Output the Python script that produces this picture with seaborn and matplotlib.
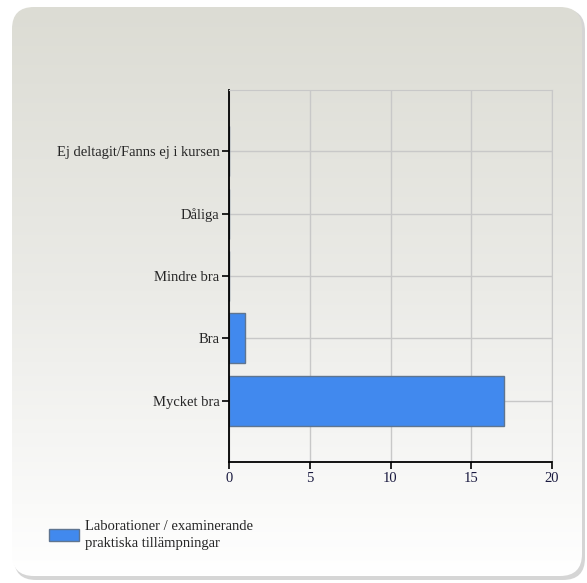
import numpy as np
import pandas as pd
import matplotlib
matplotlib.use("Agg")
import matplotlib.pyplot as plt
from matplotlib.patches import FancyBboxPatch
import seaborn as sns

categories = ["Ej deltagit/Fanns ej i kursen", "Dåliga", "Mindre bra", "Bra", "Mycket bra"]
counts = [0, 0, 0, 1, 17]
series_name = "Laborationer / examinerande\npraktiska tillämpningar"
x_ticks = [0, 5, 10, 15, 20]

df = pd.DataFrame({"Svar": categories, "Antal": counts})

sns.set_style("white")
plt.rcParams["font.family"] = ["Liberation Serif", "DejaVu Serif"]

W, H = 587, 583
fig = plt.figure(figsize=(W / 100, H / 100), dpi=100)
fig.patch.set_facecolor("white")

# rounded background panel with vertical gradient + soft shadow
bg = fig.add_axes([0, 0, 1, 1], zorder=0)
shadow = FancyBboxPatch((14, 9), 571, 571, boxstyle="round,pad=0,rounding_size=22",
                        facecolor="#c4c4c4", edgecolor="none", alpha=0.7, zorder=1)
bg.add_patch(shadow)
panel = FancyBboxPatch((12, 7), 570, 569, boxstyle="round,pad=0,rounding_size=22",
                       facecolor="none", edgecolor="none", zorder=1)
bg.add_patch(panel)
grad = np.linspace(0, 1, 256).reshape(-1, 1)
cmap = matplotlib.colors.LinearSegmentedColormap.from_list(
    "g", [(0, "#dcdcd4"), (0.5, "#ebebe7"), (1, "#ffffff")])
im = bg.imshow(grad, extent=(12, 582, 576, 7), aspect="auto", cmap=cmap, zorder=2)
im.set_clip_path(panel)
bg.set_xlim(0, W)
bg.set_ylim(H, 0)
bg.axis("off")

ax = fig.add_axes([229 / W, 1 - 462 / H, (552 - 229) / W, (462 - 90) / H], zorder=1)
ax.patch.set_alpha(0)
sns.barplot(data=df, x="Antal", y="Svar", orient="h", color="#4189ee", saturation=1,
            width=0.8, edgecolor="#5f7590", linewidth=1, label=series_name, ax=ax)

ax.set_xlim(0, 20)
ax.set_ylim(4.98, -0.98)
ax.set_xticks(x_ticks)
ax.set_xlabel("")
ax.set_ylabel("")
ax.grid(True, color="#c8c8c8", lw=1)
ax.set_axisbelow(True)
for s in ["top", "right"]:
    ax.spines[s].set_color("#c8c8c8")
for s in ["left", "bottom"]:
    ax.spines[s].set_color("black")
    ax.spines[s].set_linewidth(1.3)
ax.tick_params(axis="both", which="both", length=5, width=1.2, color="black",
               labelsize=10.5, direction="out", left=True, bottom=True)
ax.tick_params(axis="x", labelcolor="#1a1a40", pad=2)
ax.tick_params(axis="y", pad=2)

leg = ax.legend(loc="upper left", bbox_to_anchor=(49 / (552 - 229) - 229 / (552 - 229), -58 / 372),
                frameon=False, fontsize=10.5, handlelength=2.05, handleheight=0.9,
                borderaxespad=0, borderpad=0, handletextpad=0.4)
for t in leg.get_texts():
    t.set_linespacing(1.45)

fig.savefig("out.png", dpi=100)
